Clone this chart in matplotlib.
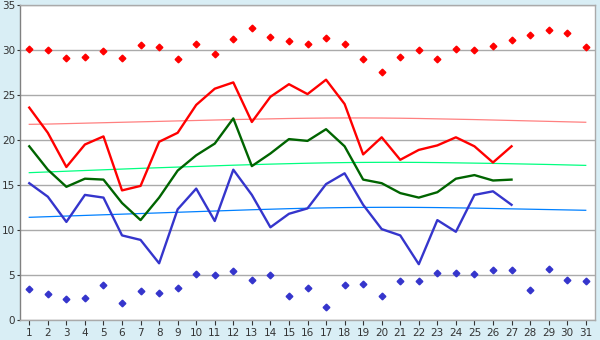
import numpy as np
import matplotlib
matplotlib.use("Agg")
import matplotlib.pyplot as plt

# ==================================
# 数据
# ==================================

days = list(range(1, 32))

t_max = [23.6, 20.8, 17.0, 19.5, 20.4, 14.4, 14.9, 19.8, 20.8, 23.9,
         25.7, 26.4, 22.0, 24.8, 26.2, 25.1, 26.7, 24.0, 18.4, 20.3,
         17.8, 18.9, 19.4, 20.3, 19.3, 17.5, 19.3]

t_mean = [19.3, 16.7, 14.8, 15.7, 15.6, 13.0, 11.1, 13.6, 16.6, 18.3,
          19.6, 22.4, 17.1, 18.5, 20.1, 19.9, 21.2, 19.3, 15.6, 15.2,
          14.1, 13.6, 14.2, 15.7, 16.1, 15.5, 15.6]

t_min = [15.2, 13.7, 10.9, 13.9, 13.6, 9.4, 8.9, 6.3, 12.3, 14.6,
         11.0, 16.7, 13.9, 10.3, 11.8, 12.4, 15.1, 16.3, 12.8, 10.1,
         9.4, 6.2, 11.1, 9.8, 13.9, 14.3, 12.8]

rec_max = [30.1, 30.0, 29.1, 29.2, 29.85, 29.1, 30.6, 30.3, 29.0, 30.7,
           29.6, 31.2, 32.5, 31.4, 31.0, 30.7, 31.3, 30.7, 29.0, 27.6,
           29.2, 30.0, 29.0, 30.1, 30.0, 30.5, 31.1, 31.7, 32.2, 31.85,
           30.3]

rec_min = [3.4, 2.85, 2.3, 2.5, 3.85, 1.85, 3.2, 3.0, 3.6, 5.1,
           4.96, 5.4, 4.4, 4.96, 2.7, 3.6, 1.5, 3.85, 3.96, 2.7,
           4.3, 4.3, 5.2, 5.2, 5.1, 5.6, 5.6, 3.3, 5.7, 4.5,
           4.3]

norm_max = [21.74, 21.77, 21.82, 21.87, 21.92, 21.97, 22.02, 22.07, 22.12, 22.17,
            22.22, 22.27, 22.31, 22.35, 22.39, 22.42, 22.44, 22.45, 22.45, 22.44,
            22.42, 22.39, 22.35, 22.31, 22.27, 22.22, 22.17, 22.12, 22.07, 22.02,
            21.97]

norm_mean = [16.37, 16.45, 16.53, 16.61, 16.69, 16.77, 16.85, 16.92, 16.99, 17.06,
             17.13, 17.20, 17.26, 17.32, 17.37, 17.42, 17.46, 17.49, 17.51, 17.52,
             17.52, 17.51, 17.49, 17.46, 17.43, 17.40, 17.36, 17.32, 17.28, 17.23,
             17.18]

norm_min = [11.41, 11.48, 11.55, 11.62, 11.69, 11.76, 11.83, 11.90, 11.97, 12.04,
            12.11, 12.18, 12.25, 12.31, 12.37, 12.42, 12.46, 12.49, 12.51, 12.52,
            12.52, 12.51, 12.49, 12.46, 12.43, 12.39, 12.35, 12.31, 12.27, 12.23,
            12.19]

# ==================================
# 绘图
# ==================================

BG = "#d9eef5"
GRID = "#aaaaaa"

fig = plt.figure(figsize=(6, 3.4), dpi=100, facecolor=BG)
ax = fig.add_axes([20 / 600, 20 / 340, 575 / 600, 315 / 340])
ax.set_facecolor("white")

# 正常值曲线
ax.plot(days, norm_max, color="#ff8080", lw=0.9)
ax.plot(days, norm_mean, color="#00ff80", lw=0.9)
ax.plot(days, norm_min, color="#0080ff", lw=0.9)

# 当月实测
n = len(t_max)
ax.plot(days[:n], t_max, color="#ff0000", lw=1.7)
ax.plot(days[:n], t_mean, color="#006400", lw=1.7)
ax.plot(days[:n], t_min, color="#3535cc", lw=1.7)

# 极值
ax.plot(days, rec_max, ls="none", marker="D", ms=3.4, color="#ff0000")
ax.plot(days, rec_min, ls="none", marker="D", ms=3.4, color="#3535cc")

ax.set_xlim(0.5, 31.5)
ax.set_ylim(0, 35)
ax.set_xticks(days)
ax.set_yticks(range(0, 36, 5))

ax.yaxis.grid(True, color=GRID, lw=1.0)
ax.set_axisbelow(True)

for s in ax.spines.values():
    s.set_color(GRID)
    s.set_linewidth(1.0)
ax.spines["left"].set_color("#808080")

ax.tick_params(axis="both", labelsize=7.5, colors="#333333", width=0.8)
ax.tick_params(axis="y", length=2.5, pad=1)
ax.tick_params(axis="x", length=3.5, pad=2)

plt.savefig("out.png", dpi=100, facecolor=BG)
